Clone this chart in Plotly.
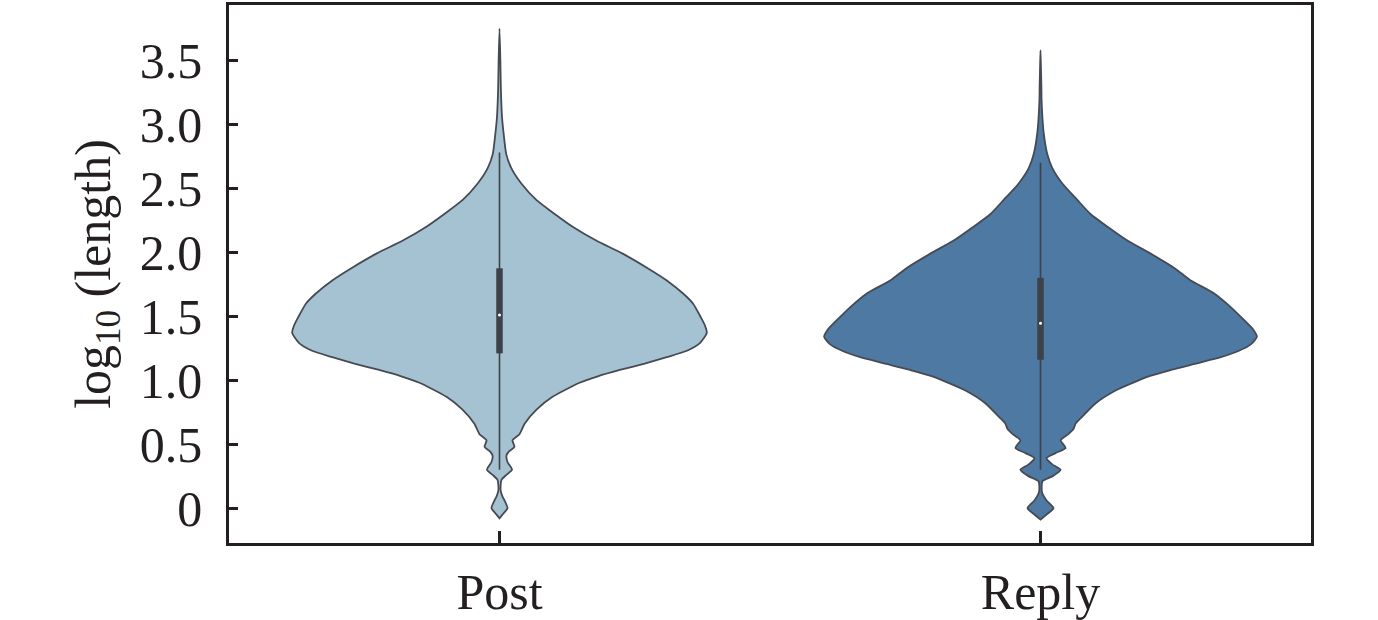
import plotly.graph_objects as go

# Categories and their positions on the x axis
categories = ['Post', 'Reply']
positions = [0, 1]

# Violin profiles: y level (log10 length) and relative density
post_levels = [3.75, 3.50, 3.30, 3.19, 3.05, 2.93, 2.77, 2.66, 2.54, 2.41, 2.30, 2.20, 2.09, 1.99,
               1.88, 1.78, 1.68, 1.60, 1.49, 1.43, 1.37, 1.29, 1.23, 1.18, 1.13, 1.08, 1.03, 0.98,
               0.87, 0.77, 0.66, 0.58, 0.53, 0.48, 0.44, 0.41, 0.36, 0.30, 0.26, 0.22, 0.14, 0.09,
               0.06, 0.00, -0.04, -0.08]
post_density = [0.0, 0.004, 0.006, 0.008, 0.012, 0.019, 0.031, 0.054, 0.100, 0.170, 0.255, 0.338,
                0.449, 0.569, 0.681, 0.773, 0.847, 0.894, 0.931, 0.949, 0.958, 0.926, 0.866, 0.773,
                0.671, 0.556, 0.454, 0.370, 0.245, 0.171, 0.116, 0.093, 0.060, 0.069, 0.042, 0.032,
                0.037, 0.058, 0.032, 0.009, 0.005, 0.014, 0.023, 0.037, 0.019, 0.0]

reply_levels = [3.58, 3.45, 3.30, 3.19, 3.05, 2.93, 2.77, 2.66, 2.54, 2.41, 2.30, 2.20, 2.09, 1.99,
                1.88, 1.78, 1.68, 1.57, 1.48, 1.40, 1.34, 1.28, 1.23, 1.18, 1.13, 1.08, 1.03, 0.92,
                0.82, 0.71, 0.66, 0.62, 0.58, 0.53, 0.47, 0.43, 0.39, 0.34, 0.30, 0.25, 0.21, 0.125,
                0.06, 0.00, -0.05, -0.09]
reply_density = [0.0, 0.002, 0.004, 0.005, 0.009, 0.015, 0.031, 0.054, 0.100, 0.170, 0.231, 0.310,
                 0.403, 0.509, 0.616, 0.694, 0.801, 0.880, 0.935, 0.981, 1.0, 0.972, 0.917, 0.833,
                 0.718, 0.602, 0.500, 0.347, 0.255, 0.190, 0.162, 0.153, 0.130, 0.093, 0.116, 0.069,
                 0.028, 0.056, 0.093, 0.056, 0.009, 0.007, 0.028, 0.060, 0.028, 0.0]

# Inner box statistics: whisker low, q1, median, q3, whisker high
post_box = [0.30, 1.21, 1.51, 1.875, 2.78]
reply_box = [0.30, 1.16, 1.445, 1.80, 2.70]

y_ticks = [0, 0.5, 1.0, 1.5, 2.0, 2.5, 3.0, 3.5]
y_tick_labels = ['0', '0.5', '1.0', '1.5', '2.0', '2.5', '3.0', '3.5']

FILL_COLORS = ['#a5c2d2', '#4d79a2']
EDGE = '#454a53'
BOX = '#3d4148'
INK = '#231f20'
FONT = 'Liberation Serif, Times New Roman, serif'
HALF_WIDTH = 0.4

fig = go.Figure()

violins = [(post_levels, post_density, post_box), (reply_levels, reply_density, reply_box)]
for pos, color, (levels, dens, box) in zip(positions, FILL_COLORS, violins):
    right = [pos + d * HALF_WIDTH for d in dens]
    left = [pos - d * HALF_WIDTH for d in dens]
    fig.add_trace(go.Scatter(
        x=right + left[::-1],
        y=levels + levels[::-1],
        mode='lines',
        fill='toself',
        fillcolor=color,
        line=dict(color=EDGE, width=1.8, shape='spline', smoothing=0.6),
        hoverinfo='skip',
        showlegend=False
    ))
    # whiskers
    fig.add_trace(go.Scatter(
        x=[pos, pos], y=[box[0], box[4]], mode='lines',
        line=dict(color=BOX, width=1.6), hoverinfo='skip', showlegend=False
    ))
    # interquartile box
    fig.add_trace(go.Scatter(
        x=[pos, pos], y=[box[1], box[3]], mode='lines',
        line=dict(color=BOX, width=6.5), hoverinfo='skip', showlegend=False
    ))
    # median
    fig.add_trace(go.Scatter(
        x=[pos], y=[box[2]], mode='markers',
        marker=dict(color='white', size=3), hoverinfo='skip', showlegend=False
    ))

fig.update_layout(
    width=1378,
    height=620,
    margin=dict(l=229, r=67, t=5, b=77),
    paper_bgcolor='white',
    plot_bgcolor='white',
    font=dict(family=FONT, size=50, color=INK),
    xaxis=dict(
        range=[-0.5, 1.5],
        tickvals=positions,
        ticktext=categories,
        ticks='inside',
        ticklen=12,
        tickwidth=2.5,
        tickcolor=INK,
        showline=True,
        linewidth=2.5,
        linecolor=INK,
        mirror=True,
        showgrid=False,
        zeroline=False,
        automargin=False,
        ticklabelstandoff=3
    ),
    yaxis=dict(
        range=[-0.273, 3.934],
        tickvals=y_ticks,
        ticktext=y_tick_labels,
        ticks='inside',
        ticklen=9,
        tickwidth=2.5,
        tickcolor=INK,
        showline=True,
        linewidth=2.5,
        linecolor=INK,
        mirror=True,
        showgrid=False,
        zeroline=False,
        automargin=False,
        ticklabelstandoff=14,
        title=dict(text='log<sub>10</sub> (length)', standoff=14, font=dict(size=50))
    )
)

# drop the default page margin so the figure sits at the window corner
fig.write_html("out.html", config={'displayModeBar': False},
               post_script="document.body.style.margin = '0';")
